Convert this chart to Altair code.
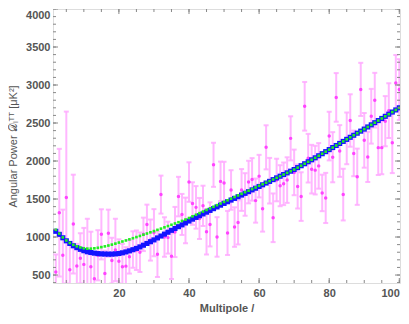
import altair as alt
import pandas as pd

# Multipole values
ell = list(range(2, 101))

# Blue squares (theory curve)
theory = [1075, 1035, 990, 950, 915, 885, 860, 838, 820, 806,
          796, 788, 782, 778, 776, 775, 775, 778, 783, 792,
          804, 818, 833, 850, 870, 892, 915, 938, 962, 988,
          1013, 1038, 1063, 1088, 1112, 1136, 1160, 1185, 1210, 1235,
          1258, 1281, 1304, 1327, 1350, 1373, 1396, 1419, 1442, 1464,
          1486, 1508, 1530, 1552, 1575, 1597, 1620, 1642, 1665, 1687,
          1710, 1732, 1755, 1778, 1800, 1822, 1844, 1866, 1888, 1913,
          1938, 1964, 1990, 2016, 2042, 2069, 2096, 2123, 2150, 2177,
          2204, 2231, 2258, 2285, 2312, 2339, 2366, 2393, 2420, 2448,
          2476, 2504, 2532, 2560, 2588, 2616, 2644, 2672, 2700]

# Green dots (second model)
model = [1095, 1045, 995, 955, 922, 897, 877, 862, 852, 847,
         847, 851, 858, 867, 877, 888, 900, 913, 927, 941,
         955, 969, 984, 999, 1014, 1030, 1046, 1062, 1078, 1094,
         1110, 1127, 1144, 1161, 1178, 1195, 1212, 1230, 1250, 1272,
         1293, 1314, 1335, 1356, 1377, 1398, 1419, 1440, 1462, 1483,
         1504, 1526, 1547, 1568, 1590, 1610, 1631, 1652, 1674, 1694,
         1715, 1736, 1757, 1779, 1800, 1822, 1844, 1866, 1888, 1913,
         1938, 1964, 1990, 2016, 2042, 2069, 2096, 2123, 2150, 2177,
         2204, 2231, 2258, 2285, 2312, 2339, 2366, 2393, 2420, 2448,
         2476, 2504, 2532, 2560, 2588, 2616, 2644, 2672, 2700]

# Magenta data points and their errors
obs = [540, 1320, 760, 1520, 570, 1170, 620, 720, 640, 800,
       610, 450, 760, 1035, 520, 1050, 690, 830, 680, 610,
       617, 739, 835, 826, 800, 1035, 1166, 960, 1057, 774,
       1558, 1000, 992, 748, 1066, 1532, 1297, 1218, 1723, 1440,
       1390, 1244, 1410, 1070, 1166, 1950, 1001, 1732, 1710, 1053,
       1619, 1131, 1192, 1619, 1560, 1723, 1758, 1479, 1801, 1371,
       2180, 1741, 1253, 1750, 1675, 1700, 1749, 2298, 1850, 1665,
       1532, 2720, 2037, 1893, 1880, 1936, 1580, 1514, 2328, 2050,
       2837, 2132, 1558, 2298, 2533, 2100, 1793, 2942, 2272, 2054,
       2589, 2800, 2176, 2176, 2524, 2663, 2241, 3025, 2940]
obs_err = [230, 840, 600, 1130, 330, 650, 290, 330, 480, 440,
           460, 330, 330, 330, 300, 310, 300, 410, 290, 300,
           250, 220, 240, 260, 260, 220, 260, 270, 310, 300,
           250, 260, 210, 300, 330, 260, 270, 300, 260, 280,
           280, 270, 265, 300, 290, 290, 260, 260, 280, 290,
           260, 260, 290, 275, 280, 280, 280, 290, 280, 300,
           290, 300, 320, 280, 270, 280, 300, 290, 300, 290,
           320, 320, 320, 320, 320, 300, 240, 330, 320, 330,
           320, 340, 340, 340, 345, 300, 370, 350, 360, 330,
           360, 360, 360, 350, 330, 360, 400, 370, 400]

x_major = [20, 40, 60, 80, 100]
x_minor = list(range(5, 101, 5))
y_major = [500, 1000, 1500, 2000, 2500, 3000, 3500, 4000]
y_minor = list(range(400, 4001, 100))

X_DOM = [1.2, 100.2]
Y_DOM = [395, 4000]

df = pd.DataFrame({"l": ell, "theory": theory, "model": model,
                   "obs": obs, "err": obs_err})
df["lo"] = df["obs"] - df["err"]
df["hi"] = df["obs"] + df["err"]

xs = alt.Scale(domain=X_DOM, nice=False, zero=False)
ys = alt.Scale(domain=Y_DOM, nice=False, zero=False)

LABEL = "#555555"
FRAME = "#888888"
PINK = "#ffaaff"

x_axis = alt.Axis(values=x_major, title="Multipole /", grid=False, format="d",
                  ticks=False, tickSize=0, domain=False, labelFlush=5,
                  labelFont="Liberation Sans", labelFontSize=11,
                  labelFontWeight="bold", labelColor=LABEL, labelPadding=4,
                  titleFont="Liberation Sans", titleFontSize=11,
                  titleFontWeight="bold", titleColor=LABEL, titlePadding=4)
y_axis = alt.Axis(values=y_major, title="Angular Power 𝒟ₗᵀᵀ  [μK²]",
                  grid=False, ticks=False, tickSize=0, domain=False,
                  labelFlush=True, format="d",
                  labelFont="Liberation Sans", labelFontSize=11,
                  labelFontWeight="bold", labelColor=LABEL, labelPadding=3,
                  titleFont="Liberation Sans", titleFontSize=11,
                  titleFontWeight="normal", titleColor=LABEL, titlePadding=7)


def X(field):
    return alt.X(field, type="quantitative", scale=xs, axis=x_axis)


def Y(field):
    return alt.Y(field, type="quantitative", scale=ys, axis=y_axis)


base = alt.Chart(df)

bars = base.mark_rule(color=PINK, strokeWidth=2, opacity=0.85, clip=True).encode(
    x=X("l"), y=Y("lo"), y2="hi:Q",
)
cap_lo = base.mark_tick(orient="horizontal", size=5, thickness=2, color=PINK,
                        opacity=0.85, clip=True).encode(x=X("l"), y=Y("lo"))
cap_hi = base.mark_tick(orient="horizontal", size=5, thickness=2, color=PINK,
                        opacity=0.85, clip=True).encode(x=X("l"), y=Y("hi"))
dots = base.mark_circle(size=12, color="#ff44ff", opacity=1, clip=True).encode(
    x=X("l"), y=Y("obs"))
blue = base.mark_square(size=26, color="#1414ff", opacity=1, clip=True).encode(
    x=X("l"), y=Y("theory"))
green = base.mark_square(size=7, color="#22ee22", opacity=1, clip=True).encode(
    x=X("l"), y=Y("model"))

xmin_df = pd.DataFrame({"t": x_minor})
xmaj_df = pd.DataFrame({"t": x_major})
ymin_df = pd.DataFrame({"t": y_minor})
ymaj_df = pd.DataFrame({"t": y_major})


def xticks(d, size, yval):
    return alt.Chart(d).mark_tick(orient="vertical", size=size, thickness=1,
                                  color=FRAME, opacity=1, clip=True).encode(
        x=X("t"),
        y=alt.YDatum(yval, type="quantitative", scale=ys, axis=y_axis),
    )


def yticks(d, size, xval):
    return alt.Chart(d).mark_tick(orient="horizontal", size=size, thickness=1,
                                  color=FRAME, opacity=1, clip=True).encode(
        y=Y("t"),
        x=alt.XDatum(xval, type="quantitative", scale=xs, axis=x_axis),
    )


frame_ticks = [
    xticks(xmin_df, 6, Y_DOM[0]), xticks(xmaj_df, 10, Y_DOM[0]),
    xticks(xmin_df, 6, Y_DOM[1]), xticks(xmaj_df, 10, Y_DOM[1]),
    yticks(ymin_df, 6, X_DOM[0]), yticks(ymaj_df, 10, X_DOM[0]),
    yticks(ymin_df, 6, X_DOM[1]), yticks(ymaj_df, 10, X_DOM[1]),
]

chart = alt.layer(bars, cap_lo, cap_hi, dots, blue, green, *frame_ticks).properties(
    width=347, height=274,
    autosize=alt.AutoSizeParams(type="none"),
    padding={"left": 45, "top": 1, "right": 1, "bottom": 33},
).configure_view(stroke=FRAME, strokeWidth=1).configure(background="white")

chart.save("out.html", embed_options={"renderer": "svg", "actions": False})
